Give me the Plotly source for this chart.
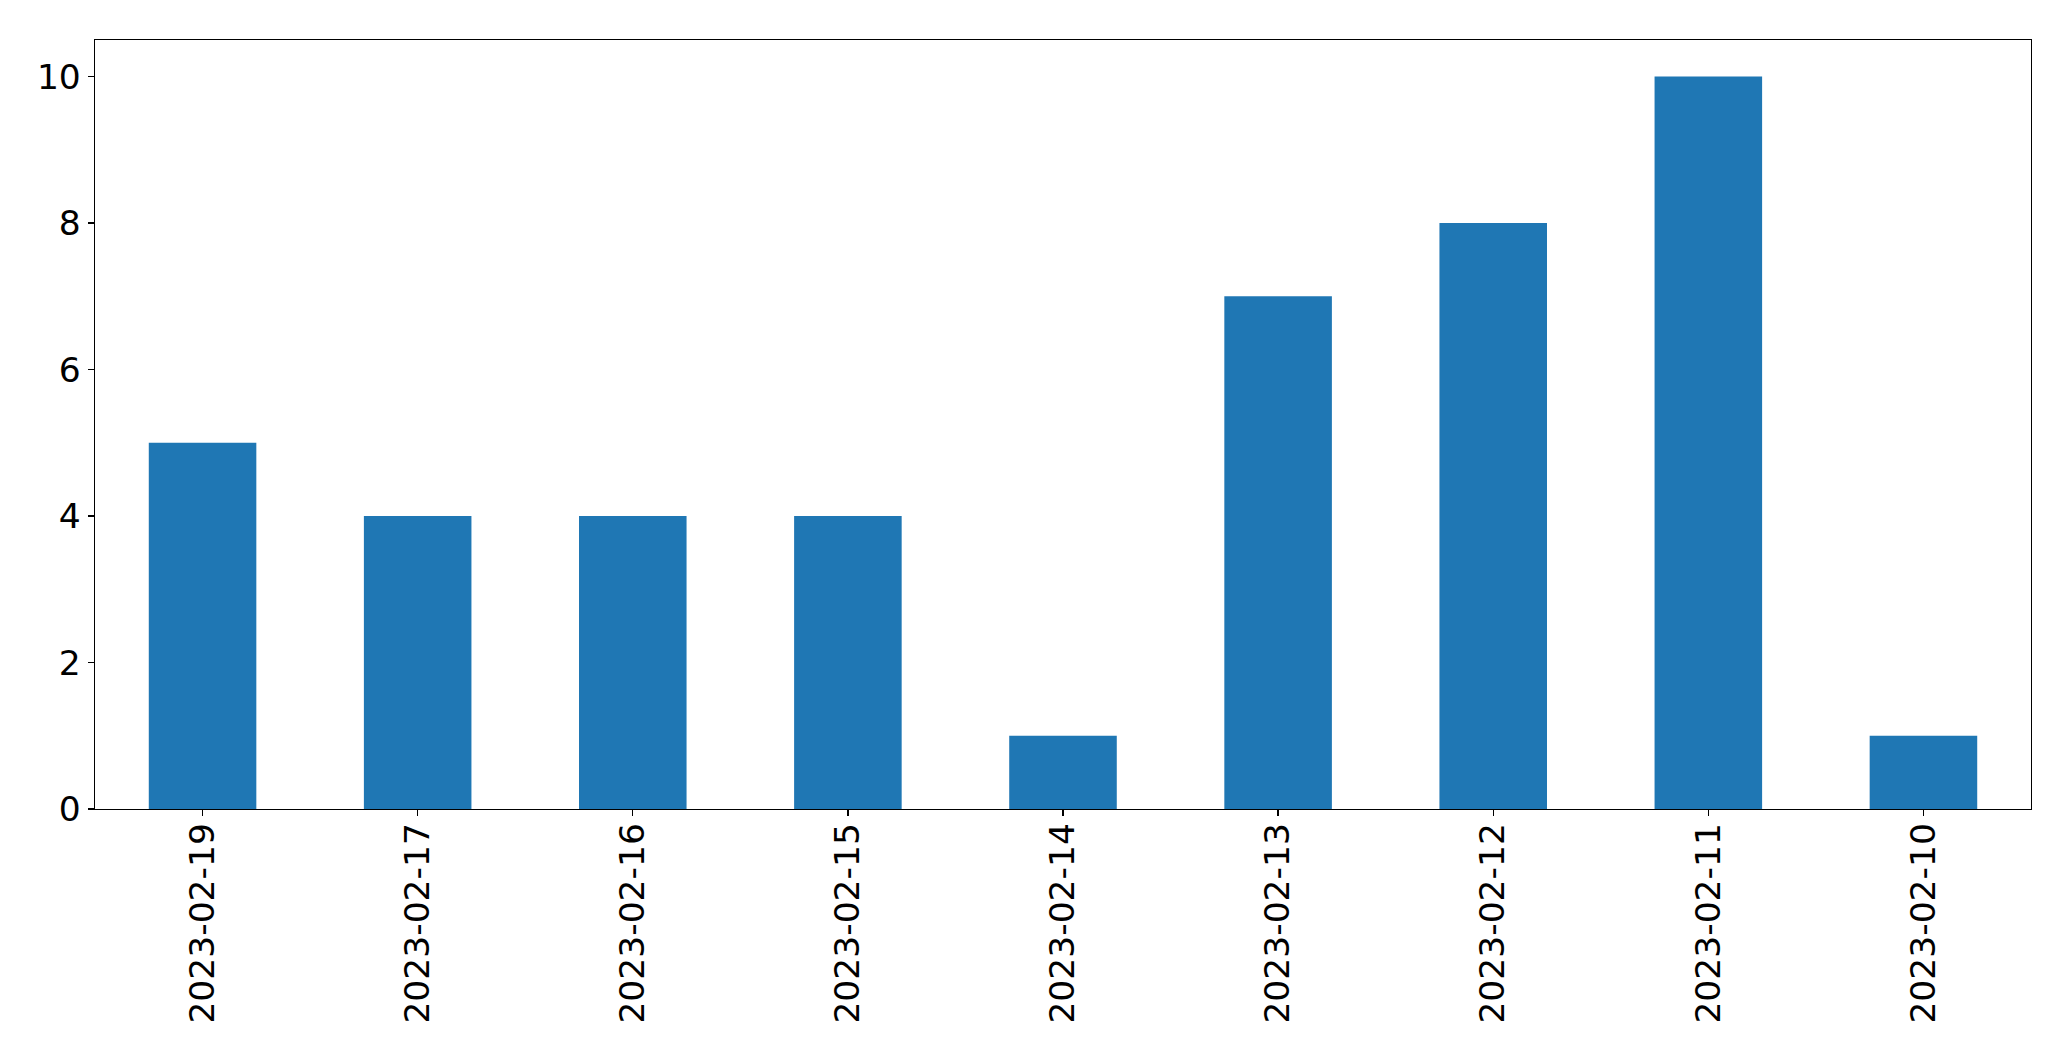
import plotly.graph_objects as go

dates = ["2023-02-19", "2023-02-17", "2023-02-16", "2023-02-15", "2023-02-14",
         "2023-02-13", "2023-02-12", "2023-02-11", "2023-02-10"]
counts = [5, 4, 4, 4, 1, 7, 8, 10, 1]
y_ticks = [0, 2, 4, 6, 8, 10]

fig = go.Figure(go.Bar(x=dates, y=counts, width=0.5, marker=dict(color="#1f77b4", line=dict(width=0))))

font = dict(family="DejaVu Sans", size=34.5, color="black")
fig.update_layout(
    width=2071, height=1061,
    margin=dict(l=94.5, r=39.5, t=39.5, b=252, pad=0),
    paper_bgcolor="white", plot_bgcolor="white",
    showlegend=False, font=font,
)
fig.update_xaxes(
    type="category", range=[-0.5, len(dates) - 0.5],
    showline=True, linecolor="black", linewidth=1.3, mirror=True,
    ticks="outside", ticklen=6, tickwidth=1.3, tickcolor="black",
    tickangle=-90, showgrid=False, zeroline=False, tickfont=font,
    ticklabelstandoff=-7,
)
fig.update_yaxes(
    range=[0, 10.5], tickvals=y_ticks, ticktext=[str(v) for v in y_ticks],
    showline=True, linecolor="black", linewidth=1.3, mirror=True,
    ticks="outside", ticklen=6, tickwidth=1.3, tickcolor="black",
    showgrid=False, zeroline=False, tickfont=font,
)
fig.write_html(
    "out.html",
    config={"displayModeBar": False, "staticPlot": True},
    post_script="document.body.style.margin='0';document.body.style.overflow='hidden';",
)
